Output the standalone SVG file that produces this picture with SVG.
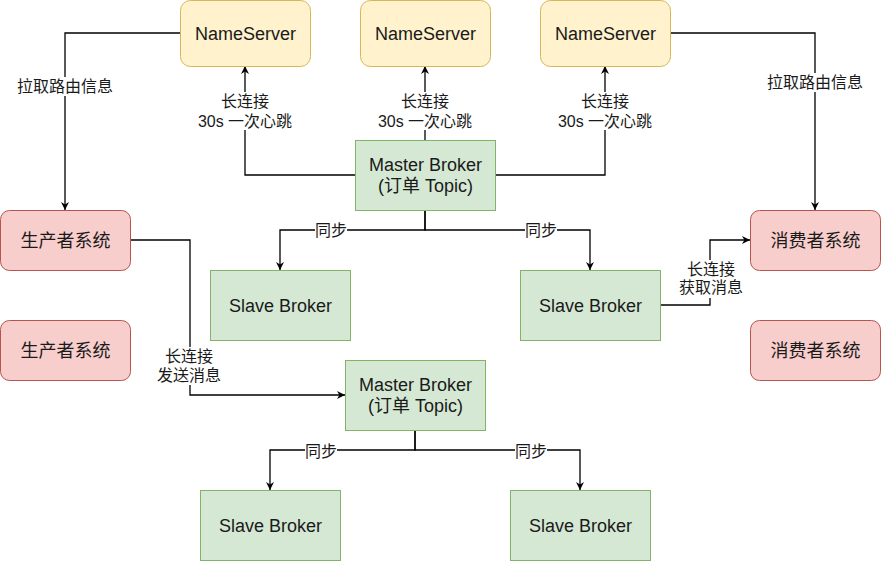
<svg xmlns="http://www.w3.org/2000/svg" width="881" height="561" viewBox="0 0 881 561">
<defs>
<marker id="arr" viewBox="0 0 10 10" refX="10" refY="5" markerWidth="8" markerHeight="8" markerUnits="userSpaceOnUse" orient="auto">
<path d="M0,0 L10,5 L0,10 L3,5 z" fill="#000"/>
</marker>
<style>
.ns{fill:#fff2cc;stroke:#d6b656;stroke-width:1}
.pc{fill:#f8cecc;stroke:#b85450;stroke-width:1}
.br{fill:#d5e8d4;stroke:#82b366;stroke-width:1}
.t{font-family:"Liberation Sans","Noto Sans CJK SC",sans-serif;font-size:18px;fill:#1a1a1a;text-anchor:middle}
.l{font-family:"Liberation Sans","Noto Sans CJK SC",sans-serif;font-size:16px;fill:#1a1a1a;text-anchor:middle}
.e{fill:none;stroke:#000;stroke-width:1.3}
.bg{fill:#fff}
</style>
</defs>
<rect width="881" height="561" fill="#fff"/>
<g id="connectors">
<path class="e" d="M180,33 H65 V210" marker-end="url(#arr)"/>
<path class="e" d="M671,33 H815 V210" marker-end="url(#arr)"/>
<path class="e" d="M355,175 H245 V66" marker-end="url(#arr)"/>
<path class="e" d="M425,140 V66" marker-end="url(#arr)"/>
<path class="e" d="M495,175 H605 V66" marker-end="url(#arr)"/>
<path class="e" d="M425,210 V230 H280 V270" marker-end="url(#arr)"/>
<path class="e" d="M425,210 V230 H590 V270" marker-end="url(#arr)"/>
<path class="e" d="M660,305 H710 V240 H750" marker-end="url(#arr)"/>
<path class="e" d="M130,240 H190 V395 H345" marker-end="url(#arr)"/>
<path class="e" d="M415,430 V450 H270 V490" marker-end="url(#arr)"/>
<path class="e" d="M415,430 V450 H580 V490" marker-end="url(#arr)"/>
<g id="labels">
<rect class="bg" x="16" y="77" width="98" height="19"/>
<text class="l" x="65" y="92">拉取路由信息</text>
<rect class="bg" x="766" y="73" width="98" height="19"/>
<text class="l" x="815" y="88">拉取路由信息</text>
<rect class="bg" x="198" y="92" width="96" height="38"/>
<text class="l" x="245" y="107">长连接</text>
<text class="l" x="245" y="126.5">30s 一次心跳</text>
<rect class="bg" x="378" y="92" width="96" height="38"/>
<text class="l" x="425" y="107">长连接</text>
<text class="l" x="425" y="126.5">30s 一次心跳</text>
<rect class="bg" x="558" y="92" width="96" height="38"/>
<text class="l" x="605" y="107">长连接</text>
<text class="l" x="605" y="126.5">30s 一次心跳</text>
<rect class="bg" x="315" y="221" width="32" height="18"/>
<text class="l" x="331" y="235.5">同步</text>
<rect class="bg" x="525" y="221" width="32" height="18"/>
<text class="l" x="541" y="235.5">同步</text>
<rect class="bg" x="679" y="260" width="64" height="38"/>
<text class="l" x="711" y="274.5">长连接</text>
<text class="l" x="711" y="293">获取消息</text>
<rect class="bg" x="157" y="347" width="64" height="38"/>
<text class="l" x="189" y="361.5">长连接</text>
<text class="l" x="189" y="380.5">发送消息</text>
<rect class="bg" x="305" y="442" width="32" height="18"/>
<text class="l" x="321" y="457">同步</text>
<rect class="bg" x="515" y="442" width="32" height="18"/>
<text class="l" x="531" y="457">同步</text>
</g>
</g>
<g id="ns1"><rect class="ns" x="180.5" y="0.5" width="130" height="66" rx="10"/><text class="t" x="245.5" y="39.5">NameServer</text></g>
<g id="ns2"><rect class="ns" x="360.5" y="0.5" width="130" height="66" rx="10"/><text class="t" x="425.5" y="39.5">NameServer</text></g>
<g id="ns3"><rect class="ns" x="540.5" y="0.5" width="130" height="66" rx="10"/><text class="t" x="605.5" y="39.5">NameServer</text></g>
<g id="producer1"><rect class="pc" x="0.5" y="210.5" width="130" height="60" rx="9"/><text class="t" x="65.5" y="246.5">生产者系统</text></g>
<g id="producer2"><rect class="pc" x="0.5" y="320.5" width="130" height="60" rx="9"/><text class="t" x="65.5" y="356.5">生产者系统</text></g>
<g id="consumer1"><rect class="pc" x="750.5" y="210.5" width="130" height="60" rx="9"/><text class="t" x="815.5" y="246.5">消费者系统</text></g>
<g id="consumer2"><rect class="pc" x="750.5" y="320.5" width="130" height="60" rx="9"/><text class="t" x="815.5" y="356.5">消费者系统</text></g>
<g id="master1"><rect class="br" x="355.5" y="140.5" width="140" height="70"/><text class="t" x="425.5" y="171">Master Broker</text><text class="t" x="425.5" y="192">(订单 Topic)</text></g>
<g id="slave1"><rect class="br" x="210.5" y="270.5" width="140" height="70"/><text class="t" x="280.5" y="311.5">Slave Broker</text></g>
<g id="slave2"><rect class="br" x="520.5" y="270.5" width="140" height="70"/><text class="t" x="590.5" y="311.5">Slave Broker</text></g>
<g id="master2"><rect class="br" x="345.5" y="360.5" width="140" height="70"/><text class="t" x="415.5" y="391">Master Broker</text><text class="t" x="415.5" y="412">(订单 Topic)</text></g>
<g id="slave3"><rect class="br" x="200.5" y="490.5" width="140" height="70"/><text class="t" x="270.5" y="531.5">Slave Broker</text></g>
<g id="slave4"><rect class="br" x="510.5" y="490.5" width="140" height="70"/><text class="t" x="580.5" y="531.5">Slave Broker</text></g>
</svg>
